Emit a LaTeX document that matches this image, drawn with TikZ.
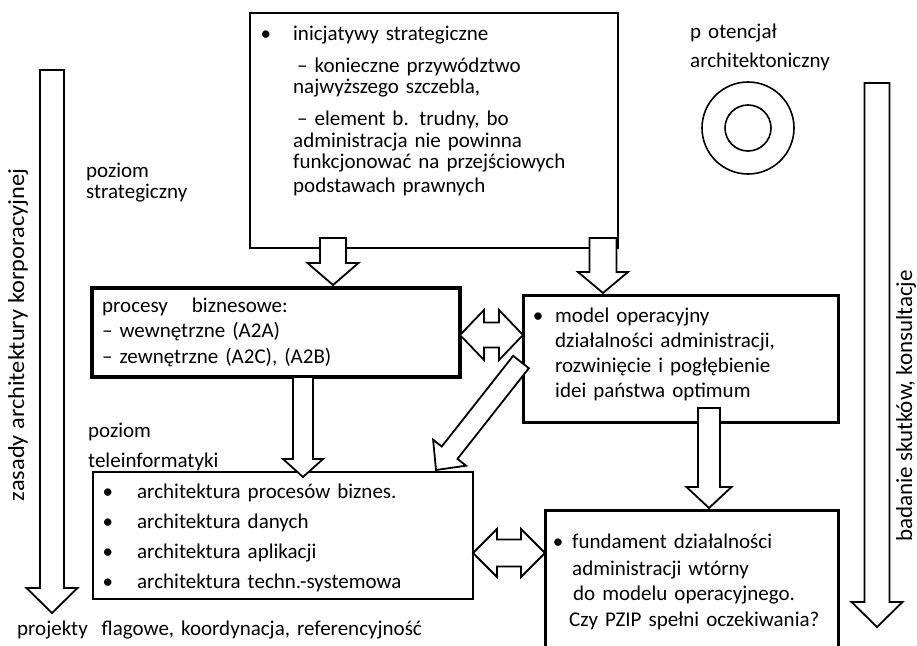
\documentclass[tikz,border=0pt]{standalone}
\usepackage{fontspec}
\usepackage{graphicx}
\setmainfont{Carlito}
\usetikzlibrary{calc}

\newcommand{\bul}[1]{\leavevmode\llap{•\hspace{#1}}}

\tikzset{
  arrshaft/.store in=\arrshaft, arrhead/.store in=\arrhead, arrheadlen/.store in=\arrheadlen,
  arrshaft=12.5pt, arrhead=25pt, arrheadlen=22pt,
  box/.style={draw, line width=2pt, inner sep=0pt},
  txt/.style={inner sep=0pt, anchor=base west, align=left, text width=330pt,
    font=\fontsize{21}{25.5}\selectfont},
  barrow/.style={draw, fill=white, line width=1.8pt, line join=miter,
    to path={($(\tikztostart)!\arrshaft!90:(\tikztotarget)$)
      -- ($(\tikztotarget)!\arrheadlen!(\tikztostart)!\arrshaft!-90:(\tikztostart)$)
      -- ($(\tikztotarget)!\arrheadlen!(\tikztostart)!\arrhead!-90:(\tikztostart)$)
      -- (\tikztotarget)
      -- ($(\tikztotarget)!\arrheadlen!(\tikztostart)!\arrhead!90:(\tikztostart)$)
      -- ($(\tikztotarget)!\arrheadlen!(\tikztostart)!\arrshaft!90:(\tikztostart)$)
      -- ($(\tikztostart)!\arrshaft!-90:(\tikztotarget)$) -- cycle}},
  dbarrow/.style={draw, fill=white, line width=1.8pt, line join=miter,
    to path={(\tikztostart)
      -- ($(\tikztostart)!\arrheadlen!(\tikztotarget)!\arrhead!90:(\tikztotarget)$)
      -- ($(\tikztostart)!\arrheadlen!(\tikztotarget)!\arrshaft!90:(\tikztotarget)$)
      -- ($(\tikztotarget)!\arrheadlen!(\tikztostart)!\arrshaft!-90:(\tikztostart)$)
      -- ($(\tikztotarget)!\arrheadlen!(\tikztostart)!\arrhead!-90:(\tikztostart)$)
      -- (\tikztotarget)
      -- ($(\tikztotarget)!\arrheadlen!(\tikztostart)!\arrhead!90:(\tikztostart)$)
      -- ($(\tikztotarget)!\arrheadlen!(\tikztostart)!\arrshaft!90:(\tikztostart)$)
      -- ($(\tikztostart)!\arrheadlen!(\tikztotarget)!\arrshaft!-90:(\tikztotarget)$)
      -- ($(\tikztostart)!\arrheadlen!(\tikztotarget)!\arrhead!-90:(\tikztotarget)$)
      -- cycle}}
}

\begin{document}
\begin{tikzpicture}[x=1pt, y=-1pt]

  \useasboundingbox (0,0) rectangle (917,645);
  \clip (0,0) rectangle (917,645);

  % boxes
  \node[box, line width=2.2pt, minimum width=368pt, minimum height=235pt] (strat) at (434,130.5) {};
  \node[box, line width=4.5pt, minimum width=368pt, minimum height=89pt] (proc) at (276,332.5) {};
  \node[box, line width=3pt, minimum width=315pt, minimum height=127pt] (model) at (680.5,358.5) {};
  \node[box, minimum width=380pt, minimum height=127pt] (tele) at (283,535.5) {};
  \node[box, line width=3pt, minimum width=293pt, minimum height=160pt] (fund) at (691.5,590) {};

  \node[circle, draw, line width=1.6pt, minimum size=92pt] (outer) at (748,128) {};
  \node[circle, draw, line width=1.6pt, minimum size=46pt] (inner) at (outer) {};

  % arrow ends
  \coordinate (a1s) at (333,238);  \coordinate (a1e) at (333,285);
  \coordinate (a2s) at (603,238);  \coordinate (a2e) at (603,293);
  \coordinate (a3s) at (303,377);  \coordinate (a3e) at (303,477);
  \coordinate (a4s) at (521,362);  \coordinate (a4e) at (436,470);
  \coordinate (a5s) at (709,408);  \coordinate (a5e) at (709,508);
  \coordinate (d1s) at (460,335);  \coordinate (d1e) at (523,335);
  \coordinate (d2s) at (473,553);  \coordinate (d2e) at (545,553);
  \coordinate (ls) at (52,70);     \coordinate (le) at (52,613);
  \coordinate (rs) at (877,83);    \coordinate (re) at (877,627);

  \path[barrow, arrshaft=13pt, arrhead=25.5pt, arrheadlen=22pt] (a1s) to (a1e);
  \path[barrow, arrshaft=13.5pt, arrhead=25pt, arrheadlen=21pt] (a2s) to (a2e);
  \path[barrow, arrshaft=10pt, arrhead=20pt, arrheadlen=18pt] (a3s) to (a3e);
  \path[barrow, arrshaft=10pt, arrhead=21pt, arrheadlen=22pt] (a4s) to (a4e);
  \path[barrow, arrshaft=11pt, arrhead=22.5pt, arrheadlen=21pt] (a5s) to (a5e);
  \path[dbarrow, arrshaft=12.5pt, arrhead=25pt, arrheadlen=24pt] (d1s) to (d1e);
  \path[dbarrow, arrshaft=13.5pt, arrhead=24pt, arrheadlen=24pt] (d2s) to (d2e);
  \path[barrow, arrshaft=12pt, arrhead=25.5pt, arrheadlen=25pt] (ls) to (le);
  \path[barrow, arrshaft=12.5pt, arrhead=25.5pt, arrheadlen=25pt] (rs) to (re);

  % texts
  \begin{scope}[every node/.style={txt}]
    \node[font=\fontsize{21}{21.5}\selectfont] (strattxt) at (293,40)
      {\bul{22pt}inicjatywy strategiczne\\[10.5pt]
       \hspace*{4pt}– konieczne przywództwo\\
       najwyższego szczebla,\\[10.5pt]
       \hspace*{4pt}– element b. trudny, bo\\
       administracja nie powinna\\
       funkcjonować na przejściowych\\[2.5pt]
       podstawach prawnych};
    \node (proctxt) at (102,312)
      {procesy\hspace{17pt} biznesowe:\\
       – wewnętrzne (A2A)\\
       – zewnętrzne (A2C), (A2B)};
    \node[font=\fontsize{21}{25}\selectfont] (modeltxt) at (555,322)
      {\bul{12pt}model operacyjny\\
       działalności administracji,\\
       rozwinięcie i pogłębienie\\
       idei państwa optimum};
    \node[font=\fontsize{21}{30}\selectfont] (teletxt) at (137,498)
      {\bul{24pt}architektura procesów biznes.\\
       \bul{24pt}architektura danych\\
       \bul{24pt}architektura aplikacji\\
       \bul{24pt}architektura techn.-systemowa};
    \node (fundtxt) at (572,548)
      {\bul{9pt}fundament działalności\\[1.5pt]
       administracji wtórny\\
       \hspace*{1pt}do modelu operacyjnego.\\
       \hspace*{-3pt}Czy PZIP spełni oczekiwania?};
    \node[font=\fontsize{21}{21}\selectfont] (strlvl) at (86,177) {poziom\\strategiczny};
    \node[font=\fontsize{21}{30}\selectfont] (telelvl) at (88,437) {poziom\\teleinformatyki};
    \node[font=\fontsize{21}{29}\selectfont] (potlbl) at (690,38) {p otencjał\\architektoniczny};
    \node[text width=500pt] (projlbl) at (17,635) {projekty\hspace{7pt} flagowe, koordynacja, referencyjność};
  \end{scope}

  \node[rotate=90, inner sep=0pt, font=\fontsize{23}{23}\selectfont] (leftlbl) at (18,335)
    {\scalebox{1.06}[1]{zasady architektury korporacyjnej}};
  \node[rotate=90, inner sep=0pt, font=\fontsize{23}{23}\selectfont] (rightlbl) at (906,406) {badanie skutków, konsultacje};

\end{tikzpicture}
\end{document}
